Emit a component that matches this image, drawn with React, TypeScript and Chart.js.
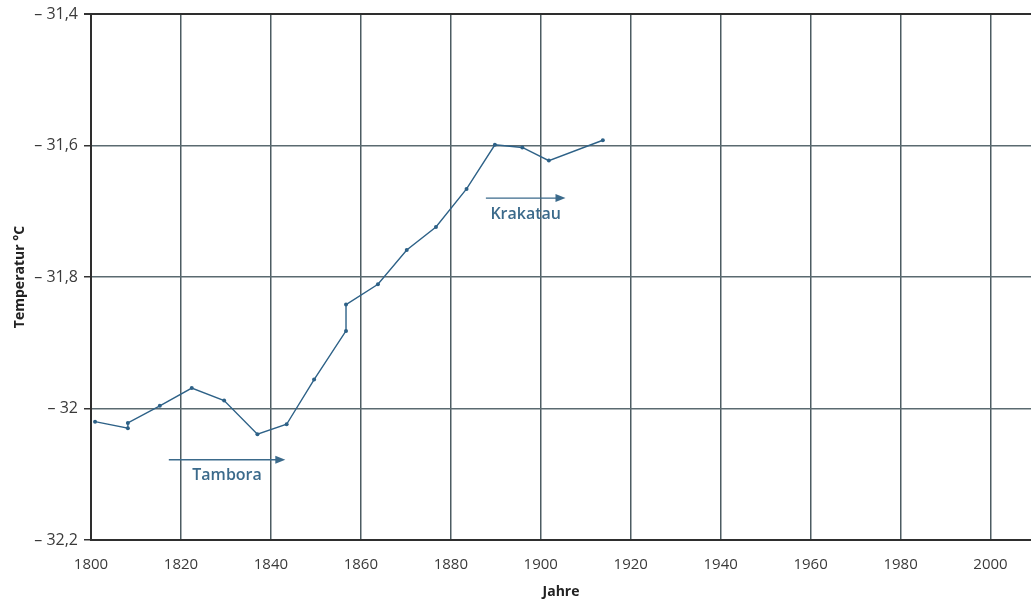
import React, { useEffect, useRef } from "react";
import { Chart, registerables } from "chart.js";

Chart.register(...registerables);

const years = [1800.9, 1808.2, 1808.2, 1815.3, 1822.4, 1829.6, 1837.0, 1843.5, 1849.6, 1856.7, 1856.7, 1863.8, 1870.2, 1876.7, 1883.5, 1889.8, 1895.9, 1901.8, 1913.8];
const temps = [-32.02, -32.03, -32.022, -31.996, -31.969, -31.988, -32.039, -32.024, -31.956, -31.882, -31.842, -31.811, -31.759, -31.724, -31.666, -31.599, -31.603, -31.623, -31.592];

const xTicks = [1800, 1820, 1840, 1860, 1880, 1900, 1920, 1940, 1960, 1980, 2000];
const yTicks = [-32.2, -32.0, -31.8, -31.6, -31.4];

const eventLabels = ["Tambora", "Krakatau"];
const eventFrom = [1817.3, 1887.8];
const eventTo = [1843.2, 1905.5];
const eventTemp = [-32.078, -31.68];

const FONT = "'Open Sans', 'Noto Sans', sans-serif";
const LINE_COLOR = "#2d6187";
const TEXT_BLUE = "#3b6a8b";

const fmt = (v: number) => {
  let s = Math.abs(v).toFixed(1).replace(".", ",");
  if (s.endsWith(",0")) s = s.slice(0, -2);
  return "– " + s;
};

const eventPlugin = {
  id: "events",
  afterDatasetsDraw(chart: any) {
    const { ctx, scales } = chart;
    const xs = scales.x;
    const ys = scales.y;
    ctx.save();
    for (let i = 0; i < eventLabels.length; i++) {
      const x1 = xs.getPixelForValue(eventFrom[i]);
      const x2 = xs.getPixelForValue(eventTo[i]);
      const y = ys.getPixelForValue(eventTemp[i]);
      ctx.strokeStyle = TEXT_BLUE;
      ctx.fillStyle = TEXT_BLUE;
      ctx.lineWidth = 1.4;
      ctx.beginPath();
      ctx.moveTo(x1, y);
      ctx.lineTo(x2 - 8, y);
      ctx.stroke();
      ctx.beginPath();
      ctx.moveTo(x2, y);
      ctx.lineTo(x2 - 10, y - 4);
      ctx.lineTo(x2 - 10, y + 4);
      ctx.closePath();
      ctx.fill();
      ctx.font = `600 16px ${FONT}`;
      ctx.textAlign = "center";
      ctx.textBaseline = "middle";
      ctx.fillText(eventLabels[i], (x1 + x2) / 2, y + 16);
    }
    ctx.restore();
  },
};

export default function App() {
  const ref = useRef<HTMLCanvasElement>(null);
  useEffect(() => {
    if (!ref.current) return;
    const chart = new Chart(ref.current, {
      type: "line",
      data: {
        datasets: [
          {
            data: years.map((x, i) => ({ x, y: temps[i] })),
            borderColor: LINE_COLOR,
            backgroundColor: LINE_COLOR,
            borderWidth: 1.4,
            pointRadius: 2,
            pointBorderWidth: 0,
            pointBackgroundColor: LINE_COLOR,
            tension: 0,
            fill: false,
          },
        ],
      },
      options: {
        animation: false,
        responsive: true,
        maintainAspectRatio: false,
        layout: { autoPadding: false, padding: { top: 14, right: 0, left: 0, bottom: 0 } },
        plugins: { legend: { display: false }, tooltip: { enabled: false } },
        scales: {
          x: {
            type: "linear",
            min: 1800,
            max: 2009,
            afterBuildTicks: (s: any) => {
              s.ticks = xTicks.map((v) => ({ value: v }));
            },
            afterFit: (s: any) => {
              s.height = 62;
              s.paddingLeft = 0;
              s.paddingRight = 0;
            },
            grid: { color: "#4d5c62", lineWidth: 1.5, drawTicks: false },
            border: { color: "#2e2e2e", width: 2 },
            ticks: {
              padding: 16,
              color: "#3a3a3a",
              font: { family: FONT, size: 15 },
              callback: (v: any) => String(v),
            },
            title: {
              display: true,
              text: "Jahre",
              color: "#222",
              font: { family: FONT, size: 14, weight: "bold" },
              padding: { top: 0, bottom: 2 },
            },
          },
          y: {
            type: "linear",
            min: -32.2,
            max: -31.4,
            afterBuildTicks: (s: any) => {
              s.ticks = yTicks.map((v) => ({ value: v }));
            },
            afterFit: (s: any) => {
              s.width = 91;
              s.paddingTop = 0;
              s.paddingBottom = 0;
            },
            grid: {
              color: (c: any) => (c.tick && Math.abs(c.tick.value + 31.4) < 1e-6 ? "#2e2e2e" : "#5a6a70"),
              lineWidth: (c: any) => (c.tick && Math.abs(c.tick.value + 31.4) < 1e-6 ? 2 : 1.5),
              drawTicks: true,
              tickLength: 7,
              tickColor: "#333",
            },
            border: { color: "#2e2e2e", width: 2 },
            ticks: {
              padding: 6,
              color: "#3a3a3a",
              font: { family: FONT, size: 16 },
              callback: (v: any) => fmt(Number(v)),
            },
            title: {
              display: true,
              text: "Temperatur °C",
              color: "#222",
              font: { family: FONT, size: 14, weight: "bold" },
              padding: { top: 12, bottom: 0 },
            },
          },
        },
      },
      plugins: [eventPlugin],
    });
    return () => chart.destroy();
  }, []);
  return (
    <div style={{ position: "fixed", left: 0, top: 0, width: 1031, height: 602, background: "#fff" }}>
      <canvas ref={ref} />
    </div>
  );
}
